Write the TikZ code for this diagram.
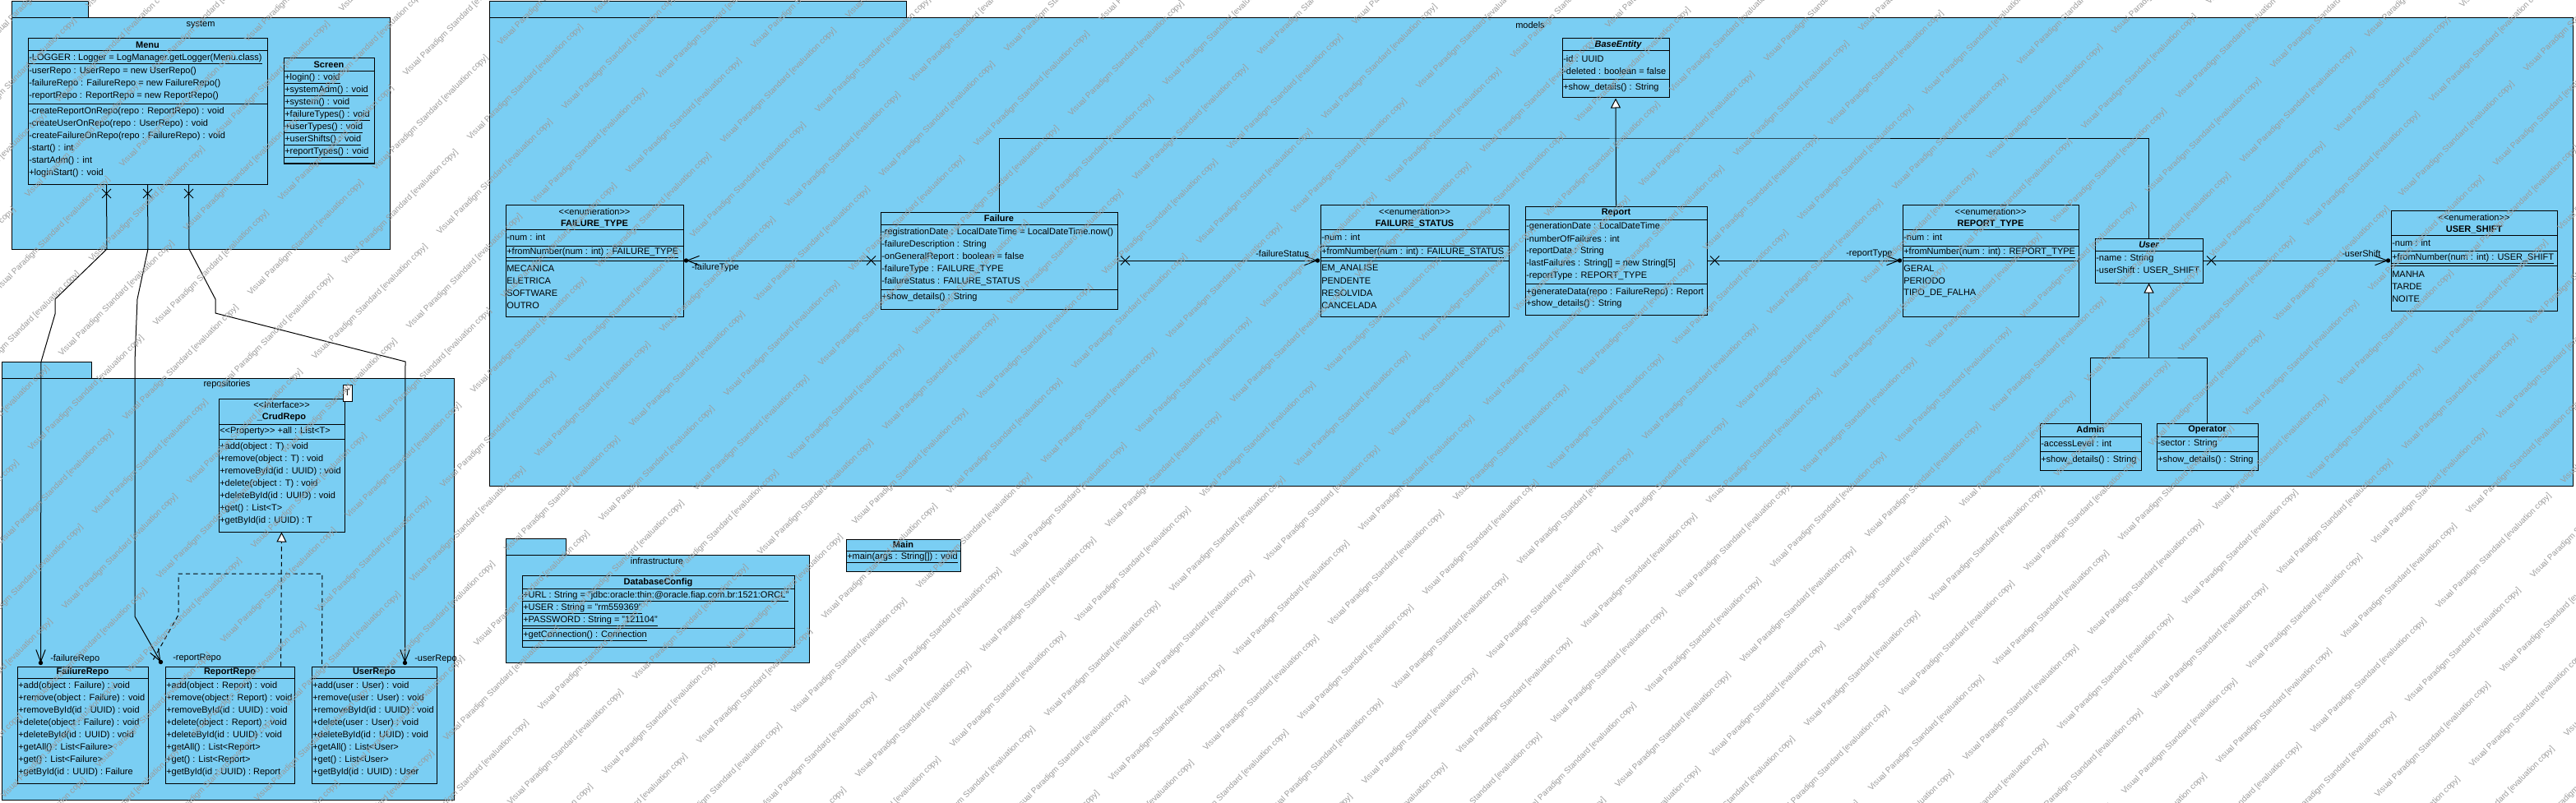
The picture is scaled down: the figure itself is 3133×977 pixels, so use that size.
\documentclass[tikz,border=0pt]{standalone}
\usepackage{fontspec}
\setmainfont{Liberation Sans}
\usetikzlibrary{arrows.meta,calc,fit,shapes.misc}

\definecolor{pkgblue}{RGB}{122,206,243}
\definecolor{wmgray}{RGB}{155,155,155}
\newcommand{\stereo}[1]{<{}<#1>{}>}

\tikzset{
  pkg/.style={draw, line width=0.75pt, fill=pkgblue},
  umlclass/.style={draw, line width=0.75pt, fill=pkgblue, inner sep=0pt},
  sepline/.style={line width=0.75pt},
  member/.style={anchor=west, inner sep=0.75pt, font=\fontsize{8.25}{9}\selectfont},
  cstereo/.style={inner sep=0.75pt, font=\fontsize{8.25}{9}\selectfont},
  ctitle/.style={inner sep=0.75pt, font=\bfseries\fontsize{8.25}{9}\selectfont},
  cabstract/.style={inner sep=0.75pt, font=\bfseries\itshape\fontsize{8.25}{9}\selectfont},
  link/.style={line width=0.75pt},
  assoc/.style={line width=0.75pt, -{Straight Barb[length=11pt, width=8.5pt]}},
  gen/.style={line width=0.75pt, -{Triangle[fill=white, length=9pt, width=9pt]}},
  realize/.style={gen, dash pattern=on 4pt off 3pt},
  dashlink/.style={line width=0.75pt, dash pattern=on 4pt off 3pt},
  nonav/.style={draw, cross out, line width=0.75pt, minimum size=7.5pt, inner sep=0pt},
  wmark/.style={text=wmgray, anchor=west, inner sep=0pt, rotate=45, font=\fontsize{7.5}{8}\selectfont}
}

\begin{document}
\begin{tikzpicture}[x=0.75pt,y=0.75pt,yscale=-1,xscale=1]
\useasboundingbox (0,0) rectangle (3133,977);

%Shape: Package system
\draw[pkg] (14,2) rectangle (107,22);
\node[pkg, inner sep=0pt, fit={(14,22) (474,303)}] (system) {};
\node[cstereo] (systemlbl) at (244,30) {system};

%Shape: Package repositories
\draw[pkg] (2,440) rectangle (111,460);
\node[pkg, inner sep=0pt, fit={(2,460) (552,973)}] (repositories) {};
\node[cstereo] (repositorieslbl) at (276,468) {repositories};

%Shape: Package models
\draw[pkg] (595,2) rectangle (1102,22);
\node[pkg, inner sep=0pt, fit={(595,22) (3129,591)}] (models) {};
\node[cstereo] (modelslbl) at (1861,31) {models};

%Shape: Package infrastructure
\draw[pkg] (615,655) rectangle (688,675);
\node[pkg, inner sep=0pt, fit={(615,675) (984,806)}] (infrastructure) {};
\node[cstereo] (infrastructurelbl) at (799,683) {infrastructure};

%Class: Menu
\node[umlclass, fit={(34,47) (325,224)}] (menu) {};
\draw[sepline] (34,62) -- (325,62);
\draw[sepline] (34,127) -- (325,127);
\node[ctitle] (menuT) at (179.5,55) {Menu};
\node[member] (menuA1) at (34,72) {\underline{-LOGGER : Logger = LogManager.getLogger(Menu.class)}};
\node[member] (menuA2) at (34,87) {-userRepo : UserRepo = new UserRepo()};
\node[member] (menuA3) at (34,102) {-failureRepo : FailureRepo = new FailureRepo()};
\node[member] (menuA4) at (34,117) {-reportRepo : ReportRepo = new ReportRepo()};
\node[member] (menuO1) at (34,136) {-createReportOnRepo(repo : ReportRepo) : void};
\node[member] (menuO2) at (34,151) {-createUserOnRepo(repo : UserRepo) : void};
\node[member] (menuO3) at (34,166) {-createFailureOnRepo(repo : FailureRepo) : void};
\node[member] (menuO4) at (34,181) {-start() : int};
\node[member] (menuO5) at (34,196) {-startAdm() : int};
\node[member] (menuO6) at (34,211) {+loginStart() : void};

%Class: Screen
\node[umlclass, fit={(345,71) (455,199)}] (screen) {};
\draw[sepline] (345,87) -- (455,87);
\node[ctitle] (screenT) at (400,79) {Screen};
\node[member] (screenO1) at (345,96) {\underline{+login() : void}};
\node[member] (screenO2) at (345,111) {\underline{+systemAdm() : void}};
\node[member] (screenO3) at (345,126) {\underline{+system() : void}};
\node[member] (screenO4) at (345,141) {\underline{+failureTypes() : void}};
\node[member] (screenO5) at (345,156) {\underline{+userTypes() : void}};
\node[member] (screenO6) at (345,171) {\underline{+userShifts() : void}};
\node[member] (screenO7) at (345,186) {\underline{+reportTypes() : void}};

%Interface: CrudRepo
\node[umlclass, fit={(266,485) (419,647)}] (crudrepo) {};
\draw[sepline] (266,516) -- (419,516);
\draw[sepline] (266,534) -- (419,534);
\node[cstereo] (crudS) at (342.5,493) {\stereo{Interface}};
\node[ctitle] (crudT) at (342.5,508) {\_CrudRepo};
\node[member] (crudA1) at (266,525) {\stereo{Property} +all : List<T>};
\node[member] (crudO1) at (266,544) {+add(object : T) : void};
\node[member] (crudO2) at (266,559) {+remove(object : T) : void};
\node[member] (crudO3) at (266,574) {+removeById(id : UUID) : void};
\node[member] (crudO4) at (266,589) {+delete(object : T) : void};
\node[member] (crudO5) at (266,604) {+deleteById(id : UUID) : void};
\node[member] (crudO6) at (266,619) {+get() : List<T>};
\node[member] (crudO7) at (266,634) {+getById(id : UUID) : T};
\node[draw, fill=white, line width=0.75pt, inner sep=0pt, minimum width=8.25pt, minimum height=15pt, font=\fontsize{8.25}{9}\selectfont] (crudparam) at (422.5,478) {T};

%Class: FailureRepo
\node[umlclass, fit={(21,811) (180,953)}] (failurerepo) {};
\draw[sepline] (21,825) -- (180,825);
\node[ctitle] (frepoT) at (100.5,818) {FailureRepo};
\node[member] (frepoO1) at (21,835) {+add(object : Failure) : void};
\node[member] (frepoO2) at (21,850) {+remove(object : Failure) : void};
\node[member] (frepoO3) at (21,865) {+removeById(id : UUID) : void};
\node[member] (frepoO4) at (21,880) {+delete(object : Failure) : void};
\node[member] (frepoO5) at (21,895) {+deleteById(id : UUID) : void};
\node[member] (frepoO6) at (21,910) {+getAll() : List<Failure>};
\node[member] (frepoO7) at (21,925) {+get() : List<Failure>};
\node[member] (frepoO8) at (21,940) {+getById(id : UUID) : Failure};

%Class: ReportRepo
\node[umlclass, fit={(201,811) (358,953)}] (reportrepo) {};
\draw[sepline] (201,825) -- (358,825);
\node[ctitle] (rrepoT) at (279.5,818) {ReportRepo};
\node[member] (rrepoO1) at (201,835) {+add(object : Report) : void};
\node[member] (rrepoO2) at (201,850) {+remove(object : Report) : void};
\node[member] (rrepoO3) at (201,865) {+removeById(id : UUID) : void};
\node[member] (rrepoO4) at (201,880) {+delete(object : Report) : void};
\node[member] (rrepoO5) at (201,895) {+deleteById(id : UUID) : void};
\node[member] (rrepoO6) at (201,910) {+getAll() : List<Report>};
\node[member] (rrepoO7) at (201,925) {+get() : List<Report>};
\node[member] (rrepoO8) at (201,940) {+getById(id : UUID) : Report};

%Class: UserRepo
\node[umlclass, fit={(379,811) (531,953)}] (userrepo) {};
\draw[sepline] (379,825) -- (531,825);
\node[ctitle] (urepoT) at (455,818) {UserRepo};
\node[member] (urepoO1) at (379,835) {+add(user : User) : void};
\node[member] (urepoO2) at (379,850) {+remove(user : User) : void};
\node[member] (urepoO3) at (379,865) {+removeById(id : UUID) : void};
\node[member] (urepoO4) at (379,880) {+delete(user : User) : void};
\node[member] (urepoO5) at (379,895) {+deleteById(id : UUID) : void};
\node[member] (urepoO6) at (379,910) {+getAll() : List<User>};
\node[member] (urepoO7) at (379,925) {+get() : List<User>};
\node[member] (urepoO8) at (379,940) {+getById(id : UUID) : User};

%Enumeration: FAILURE_TYPE
\node[umlclass, fit={(615,249) (831,385)}] (failuretype) {};
\draw[sepline] (615,279) -- (831,279);
\draw[sepline] (615,299) -- (831,299);
\draw[sepline] (615,317) -- (831,317);
\node[cstereo] (ftypeS) at (723,258) {\stereo{enumeration}};
\node[ctitle] (ftypeT) at (723,272) {FAILURE\_TYPE};
\node[member] (ftypeA1) at (615,289) {-num : int};
\node[member] (ftypeO1) at (615,308) {\underline{+fromNumber(num : int) : FAILURE\_TYPE}};
\node[member] (ftypeL1) at (615,327) {MECANICA};
\node[member] (ftypeL2) at (615,342) {ELETRICA};
\node[member] (ftypeL3) at (615,357) {SOFTWARE};
\node[member] (ftypeL4) at (615,372) {OUTRO};

%Class: Failure
\node[umlclass, fit={(1071,258) (1359,376)}] (failure) {};
\draw[sepline] (1071,273) -- (1359,273);
\draw[sepline] (1071,352) -- (1359,352);
\node[ctitle] (failureT) at (1215,266) {Failure};
\node[member] (failureA1) at (1071,283) {-registrationDate : LocalDateTime = LocalDateTime.now()};
\node[member] (failureA2) at (1071,298) {-failureDescription : String};
\node[member] (failureA3) at (1071,313) {-onGeneralReport : boolean = false};
\node[member] (failureA4) at (1071,328) {-failureType : FAILURE\_TYPE};
\node[member] (failureA5) at (1071,343) {-failureStatus : FAILURE\_STATUS};
\node[member] (failureO1) at (1071,362) {+show\_details() : String};

%Enumeration: FAILURE_STATUS
\node[umlclass, fit={(1606,249) (1835,385)}] (failurestatus) {};
\draw[sepline] (1606,279) -- (1835,279);
\draw[sepline] (1606,299) -- (1835,299);
\draw[sepline] (1606,317) -- (1835,317);
\node[cstereo] (fstatS) at (1720.5,258) {\stereo{enumeration}};
\node[ctitle] (fstatT) at (1720.5,272) {FAILURE\_STATUS};
\node[member] (fstatA1) at (1606,289) {-num : int};
\node[member] (fstatO1) at (1606,308) {\underline{+fromNumber(num : int) : FAILURE\_STATUS}};
\node[member] (fstatL1) at (1606,327) {EM\_ANALISE};
\node[member] (fstatL2) at (1606,342) {PENDENTE};
\node[member] (fstatL3) at (1606,357) {RESOLVIDA};
\node[member] (fstatL4) at (1606,372) {CANCELADA};

%Abstract class: BaseEntity
\node[umlclass, fit={(1900,47) (2030,119)}] (baseentity) {};
\draw[sepline] (1900,62) -- (2030,62);
\draw[sepline] (1900,97) -- (2030,97);
\node[cabstract] (baseT) at (1965,55) {\_BaseEntity};
\node[member] (baseA1) at (1900,72) {-id : UUID};
\node[member] (baseA2) at (1900,87) {-deleted : boolean = false};
\node[member] (baseO1) at (1900,107) {+show\_details() : String};

%Class: Report
\node[umlclass, fit={(1855,251) (2076,383)}] (report) {};
\draw[sepline] (1855,267) -- (2076,267);
\draw[sepline] (1855,345) -- (2076,345);
\node[ctitle] (reportT) at (1965.5,259) {Report};
\node[member] (reportA1) at (1855,276) {-generationDate : LocalDateTime};
\node[member] (reportA2) at (1855,291) {-numberOfFailures : int};
\node[member] (reportA3) at (1855,306) {-reportData : String};
\node[member] (reportA4) at (1855,321) {-lastFailures : String[] = new String[5]};
\node[member] (reportA5) at (1855,336) {-reportType : REPORT\_TYPE};
\node[member] (reportO1) at (1855,356) {+generateData(repo : FailureRepo) : Report};
\node[member] (reportO2) at (1855,370) {+show\_details() : String};

%Enumeration: REPORT_TYPE
\node[umlclass, fit={(2314,249) (2528,385)}] (reporttype) {};
\draw[sepline] (2314,279) -- (2528,279);
\draw[sepline] (2314,299) -- (2528,299);
\draw[sepline] (2314,317) -- (2528,317);
\node[cstereo] (rtypeS) at (2421,258) {\stereo{enumeration}};
\node[ctitle] (rtypeT) at (2421,272) {REPORT\_TYPE};
\node[member] (rtypeA1) at (2314,289) {-num : int};
\node[member] (rtypeO1) at (2314,308) {\underline{+fromNumber(num : int) : REPORT\_TYPE}};
\node[member] (rtypeL1) at (2314,327) {GERAL};
\node[member] (rtypeL2) at (2314,342) {PERIODO};
\node[member] (rtypeL3) at (2314,357) {TIPO\_DE\_FALHA};

%Abstract class: User
\node[umlclass, fit={(2548,290) (2679,344)}] (user) {};
\draw[sepline] (2548,305) -- (2679,305);
\node[cabstract] (userT) at (2613.5,298) {User};
\node[member] (userA1) at (2548,315) {-name : String};
\node[member] (userA2) at (2548,330) {-userShift : USER\_SHIFT};

%Enumeration: USER_SHIFT
\node[umlclass, fit={(2908,256) (3110,378)}] (usershift) {};
\draw[sepline] (2908,286) -- (3110,286);
\draw[sepline] (2908,305) -- (3110,305);
\draw[sepline] (2908,323) -- (3110,323);
\node[cstereo] (ushiftS) at (3009,265) {\stereo{enumeration}};
\node[ctitle] (ushiftT) at (3009,279) {USER\_SHIFT};
\node[member] (ushiftA1) at (2908,296) {-num : int};
\node[member] (ushiftO1) at (2908,315) {\underline{+fromNumber(num : int) : USER\_SHIFT}};
\node[member] (ushiftL1) at (2908,334) {MANHA};
\node[member] (ushiftL2) at (2908,349) {TARDE};
\node[member] (ushiftL3) at (2908,364) {NOITE};

%Class: Admin
\node[umlclass, fit={(2481,515) (2604,572)}] (admin) {};
\draw[sepline] (2481,531) -- (2604,531);
\draw[sepline] (2481,549) -- (2604,549);
\node[ctitle] (adminT) at (2542.5,523) {Admin};
\node[member] (adminA1) at (2481,540) {-accessLevel : int};
\node[member] (adminO1) at (2481,560) {+show\_details() : String};

%Class: Operator
\node[umlclass, fit={(2623,515) (2746,572)}] (operator) {};
\draw[sepline] (2623,531) -- (2746,531);
\draw[sepline] (2623,549) -- (2746,549);
\node[ctitle] (operatorT) at (2684.5,523) {Operator};
\node[member] (operatorA1) at (2623,540) {-sector : String};
\node[member] (operatorO1) at (2623,560) {+show\_details() : String};

%Class: DatabaseConfig
\node[umlclass, fit={(635,700) (966,787)}] (databaseconfig) {};
\draw[sepline] (635,716) -- (966,716);
\draw[sepline] (635,764) -- (966,764);
\node[ctitle] (dbT) at (800.5,709) {DatabaseConfig};
\node[member] (dbA1) at (635,726) {\underline{+URL : String = "jdbc:oracle:thin:@oracle.fiap.com.br:1521:ORCL"}};
\node[member] (dbA2) at (635,741) {\underline{+USER : String = "rm559369"}};
\node[member] (dbA3) at (635,756) {\underline{+PASSWORD : String = "121104"}};
\node[member] (dbO1) at (635,774) {\underline{+getConnection() : Connection}};

%Class: Main
\node[umlclass, fit={(1029,656) (1168,695)}] (main) {};
\draw[sepline] (1029,670) -- (1168,670);
\node[ctitle] (mainT) at (1098.5,663) {Main};
\node[member] (mainO1) at (1029,679) {\underline{+main(args : String[]) : void}};

%Straight Lines: Menu to repositories
\draw[assoc] ($(menu.south)+(-50,0)$) -- (130,303) -- (67,364) -- (67,382) -- (50,440) -- ($(failurerepo.north west)+(29,-4)$);
\fill ($(failurerepo.north west)+(29,-4)$) circle (2.7);
\node[nonav] (xmenu1) at ($(menu.south)+(-50,11)$) {};
\draw[assoc] (menu.south) -- (180,303) -- (167,364) -- (164,440) -- (164,750) -- ($(reportrepo.north west)+(-5,-5)$);
\fill ($(reportrepo.north west)+(-5,-5)$) circle (2.7);
\node[nonav] (xmenu2) at ($(menu.south)+(0,11)$) {};
\draw[assoc] ($(menu.south)+(50,0)$) -- (230,303) -- (262,364) -- (262,381) -- (493,440) -- ($(userrepo.north west)+(114,-4)$);
\fill ($(userrepo.north west)+(114,-4)$) circle (2.7);
\node[nonav] (xmenu3) at ($(menu.south)+(50,11)$) {};
\node[member] (lblfrepo) at (60,802) {-failureRepo};
\node[member] (lblrrepo) at (209,801) {-reportRepo};
\node[member] (lblurepo) at (503,802) {-userRepo};

%Realization: repos to CrudRepo
\draw[dashlink] ($(failurerepo.north east)+(6,-8)$) -- (217,748) -- (217,698) -- (392,698) -- ($(userrepo.north west)+(13,0)$);
\draw[realize] ($(reportrepo.north west)+(141,0)$) -- (crudrepo.south);

%Straight Lines: associations in models
\draw[assoc] (failure.west) -- ($(failuretype.east)+(3,0)$);
\fill ($(failuretype.east)+(3,0)$) circle (2.7);
\node[nonav] (xfailure1) at ($(failure.west)+(-11,0)$) {};
\node[member] (lblftype) at (840,326) {-failureType};

\draw[assoc] (failure.east) -- ($(failurestatus.west)+(-3,0)$);
\fill ($(failurestatus.west)+(-3,0)$) circle (2.7);
\node[nonav] (xfailure2) at ($(failure.east)+(9,0)$) {};
\node[member] (lblfstat) at (1526,309) {-failureStatus};

\draw[assoc] (report.east) -- ($(reporttype.west)+(-3,0)$);
\fill ($(reporttype.west)+(-3,0)$) circle (2.7);
\node[nonav] (xreport) at ($(report.east)+(9,0)$) {};
\node[member] (lblrtype) at (2244,309) {-reportType};

\draw[assoc] (user.east) -- ($(usershift.west)+(-3,0)$);
\fill ($(usershift.west)+(-3,0)$) circle (2.7);
\node[nonav] (xuser) at ($(user.east)+(10,0)$) {};
\node[member] (lblushift) at (2847,309) {-userShift};

%Generalizations
\coordinate (genbus) at (1965,169);
\draw[gen] (report.north) -- (baseentity.south);
\draw[link] (failure.north) |- (genbus) -| (user.north);
\coordinate (userbus) at (2613.5,435);
\draw[gen] (userbus) -- (user.south);
\draw[link] (admin.north) |- (userbus) -| (operator.north);

%Watermark
\foreach \j in {-22,...,13}
  \foreach \k in {-16,...,7}
    \node[wmark] (wm-\j-\k) at (2003+\j*115-\k*37, 842-\j*37+\k*115) {Visual Paradigm Standard [evaluation copy]};

\end{tikzpicture}
\end{document}
